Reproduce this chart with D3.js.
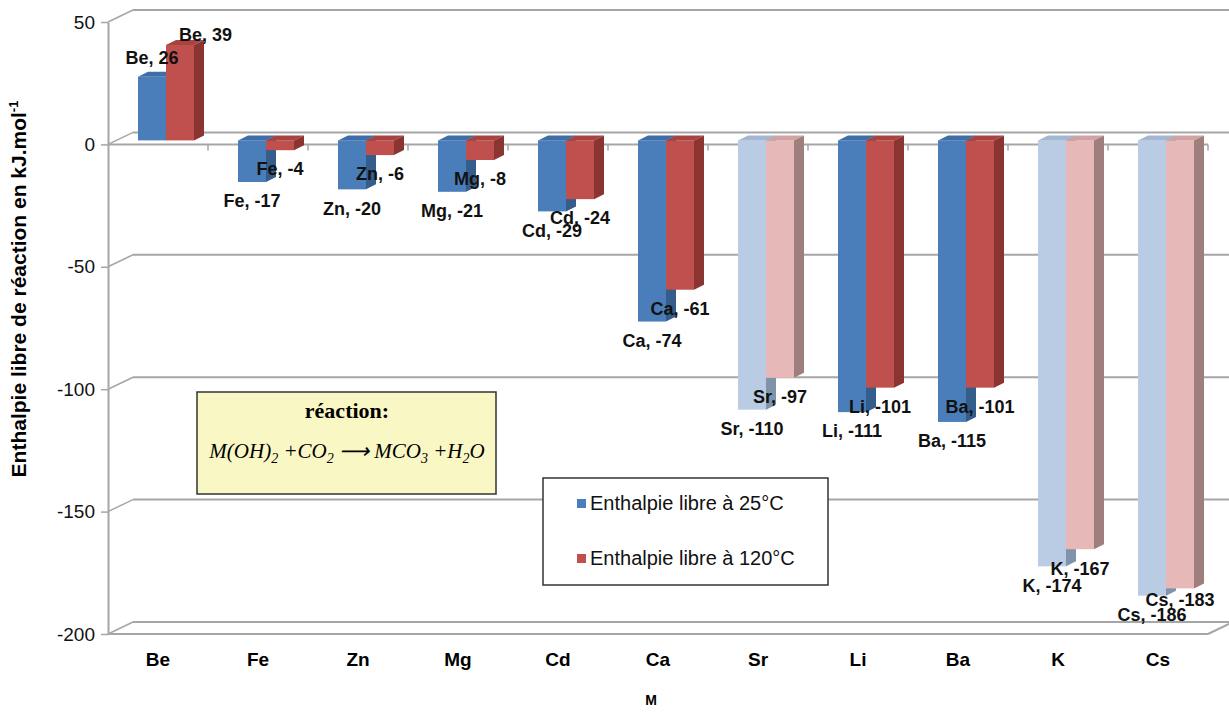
<!DOCTYPE html>
<html>
<head>
<meta charset="utf-8">
<script src="https://cdn.jsdelivr.net/npm/d3@7"></script>
<style>
  body { margin: 0; background: #fff; }
  svg { display: block; font-family: "Liberation Sans", Arial, sans-serif; }
</style>
</head>
<body>
<svg id="chart" width="1229" height="716"></svg>
<script>
// data
var categories = ["Be", "Fe", "Zn", "Mg", "Cd", "Ca", "Sr", "Li", "Ba", "K", "Cs"];
var g25 = [26, -17, -20, -21, -29, -74, -110, -111, -115, -174, -186];
var g120 = [39, -4, -6, -8, -24, -61, -97, -101, -101, -167, -183];
var yTicks = [50, 0, -50, -100, -150, -200];
var seriesNames = ["Enthalpie libre à 25°C", "Enthalpie libre à 120°C"];
var paleCats = ["Sr", "K", "Cs"];

var svg = d3.select("#chart"),
    W = +svg.attr("width"),
    H = +svg.attr("height");

var y = d3.scaleLinear().domain([-200, 50]).range([634, 22]);
var x = d3.scaleBand().domain(categories).range([108, 1208]);
var xs = d3.scaleBand().domain([0, 1]).range([0, 56]);

// 3d offsets: walls, bar position, bar depth
var DX = 25, DY = -12;
var BX = 8, BY = -4;
var dx = 10, dy = -5;
var gridColor = "#a6a6a6";

var colors = [
  { front: "#4a7ebb", side: "#345d8c", top: "#3e6ea7" },
  { front: "#c0504d", side: "#8a3532", top: "#a74441" }
];
var paleColors = [
  { front: "#b9cce4", side: "#7f93aa", top: "#a3b7d0" },
  { front: "#e6b8b7", side: "#a07e7e", top: "#cfa3a2" }
];

// back wall gridlines + side diagonals
var grid = svg.append("g");
yTicks.forEach(function (t) {
  grid.append("line")
    .attr("x1", 108 + DX).attr("x2", W)
    .attr("y1", y(t) + DY).attr("y2", y(t) + DY)
    .attr("stroke", gridColor).attr("stroke-width", 2);
  grid.append("line")
    .attr("x1", 108).attr("x2", 108 + DX)
    .attr("y1", y(t)).attr("y2", y(t) + DY)
    .attr("stroke", gridColor).attr("stroke-width", 1.5);
});

// floor front edge
grid.append("line")
  .attr("x1", 108).attr("x2", 1208)
  .attr("y1", y(-200)).attr("y2", y(-200))
  .attr("stroke", gridColor).attr("stroke-width", 2);
grid.append("line")
  .attr("x1", 1208).attr("x2", 1208 + DX)
  .attr("y1", y(-200)).attr("y2", y(-200) + DY)
  .attr("stroke", gridColor).attr("stroke-width", 2);

// zero axis line with category ticks
grid.append("line")
  .attr("x1", 108).attr("x2", 1208)
  .attr("y1", y(0)).attr("y2", y(0))
  .attr("stroke", gridColor).attr("stroke-width", 2);
categories.forEach(function (c) {
  var xx = x(c) + x.bandwidth();
  grid.append("line")
    .attr("x1", xx).attr("x2", xx)
    .attr("y1", y(0)).attr("y2", y(0) + 6)
    .attr("stroke", gridColor).attr("stroke-width", 1.5);
});

// y axis
var yAxis = svg.append("g")
  .attr("transform", "translate(108,0)")
  .call(d3.axisLeft(y).tickValues(yTicks).tickSize(7).tickSizeOuter(0).tickPadding(6)
    .tickFormat(function (d) { return String(d); }));
yAxis.select(".domain").attr("stroke", gridColor).attr("stroke-width", 2);
yAxis.selectAll(".tick line").attr("stroke", gridColor).attr("stroke-width", 1.5);
yAxis.selectAll(".tick text")
  .style("font-size", "19px")
  .attr("fill", "#111");

// category axis labels
var xAxis = svg.append("g")
  .attr("transform", "translate(0," + y(-200) + ")")
  .call(d3.axisBottom(x).tickSize(0).tickPadding(19));
xAxis.select(".domain").remove();
xAxis.selectAll(".tick text")
  .style("font-size", "19px")
  .style("font-weight", "bold")
  .attr("fill", "#000");

// bars
var rows = categories.map(function (c, i) {
  return { cat: c, vals: [g25[i], g120[i]] };
});

var barsG = svg.append("g");
rows.forEach(function (r) {
  var pale = paleCats.indexOf(r.cat) >= 0;
  r.vals.forEach(function (v, s) {
    var col = pale ? paleColors[s] : colors[s];
    var x0 = x(r.cat) + x.bandwidth() / 2 + BX - 28 + xs(s);
    var w = xs.bandwidth();
    var y0 = y(0) + BY, yv = y(v) + BY;
    var yTop = Math.min(y0, yv), yBot = Math.max(y0, yv);
    var g = barsG.append("g");
    g.append("rect")
      .attr("x", x0).attr("y", yTop)
      .attr("width", w).attr("height", yBot - yTop)
      .attr("fill", col.front);
    g.append("polygon")
      .attr("points", [[x0, yTop], [x0 + dx, yTop + dy], [x0 + w + dx, yTop + dy], [x0 + w, yTop]].join(" "))
      .attr("fill", col.top);
    g.append("polygon")
      .attr("points", [[x0 + w, yTop], [x0 + w + dx, yTop + dy], [x0 + w + dx, yBot + dy], [x0 + w, yBot]].join(" "))
      .attr("fill", col.side);
  });
});

// reaction box
var rb = svg.append("g").attr("transform", "translate(197,392)");
rb.append("rect")
  .attr("width", 299).attr("height", 102)
  .attr("fill", "#f9f7c4").attr("stroke", "#333").attr("stroke-width", 1.5);
rb.append("text")
  .attr("x", 150).attr("y", 26)
  .attr("text-anchor", "middle")
  .style("font-family", "'Liberation Serif', 'Times New Roman', serif")
  .style("font-size", "22px")
  .style("font-weight", "bold")
  .text("réaction:");
var eq = rb.append("text")
  .attr("x", 150).attr("y", 66)
  .attr("text-anchor", "middle")
  .style("font-family", "'Liberation Serif', 'Times New Roman', serif")
  .style("font-size", "21px")
  .style("font-style", "italic");
[["M(OH)", 0], ["2", 1], [" +CO", 0], ["2", 1], [" ⟶ MCO", 0], ["3", 1], [" +H", 0], ["2", 1], ["O", 0]]
  .forEach(function (p, i, arr) {
    var prevSub = i > 0 && arr[i - 1][1];
    var dyv = p[1] && !prevSub ? 5 : (!p[1] && prevSub ? -5 : 0);
    eq.append("tspan")
      .attr("dy", dyv)
      .style("font-size", p[1] ? "14px" : null)
      .text(p[0]);
  });

// legend
var lg = svg.append("g").attr("transform", "translate(543,478)");
lg.append("rect")
  .attr("width", 285).attr("height", 107)
  .attr("fill", "#fff").attr("stroke", "#333").attr("stroke-width", 1.5);
seriesNames.forEach(function (n, i) {
  var yy = 25 + i * 55;
  lg.append("rect")
    .attr("x", 34).attr("y", yy - 4)
    .attr("width", 9).attr("height", 9)
    .attr("fill", colors[i].front);
  lg.append("text")
    .attr("x", 47).attr("y", yy)
    .attr("dy", "0.35em")
    .style("font-size", "20px")
    .attr("fill", "#111")
    .text(n);
});

// data labels
var labG = svg.append("g");
rows.forEach(function (r) {
  r.vals.forEach(function (v, s) {
    var cx = x(r.cat) + x.bandwidth() / 2 + BX - 28 + xs(s) + xs.bandwidth() / 2;
    var yv = y(v) + BY;
    var ly = v >= 0 ? Math.max(yv - 19, y(50) + 13) : yv + 19;
    // keep labels inside the plot at the bottom as well
    ly = Math.min(ly, y(-200) - 17 - 17 * s);
    // top-clamped positive label of the 2nd series gets pushed right, like Excel does
    var pushRight = v >= 0 && s === 1 && ly > yv - 19;
    labG.append("text")
      .attr("x", pushRight ? cx - 1 : cx)
      .attr("y", ly)
      .attr("dy", "0.35em")
      .attr("text-anchor", pushRight ? "start" : "middle")
      .style("font-size", "18px")
      .style("font-weight", "bold")
      .attr("fill", "#111")
      .text(r.cat + ", " + v);
  });
});

// axis titles
var yt = svg.append("text")
  .attr("transform", "translate(26,289) rotate(-90)")
  .attr("text-anchor", "middle")
  .style("font-size", "21px")
  .style("font-weight", "bold")
  .attr("fill", "#000");
yt.append("tspan").text("Enthalpie libre de réaction en kJ.mol");
yt.append("tspan").attr("dy", -8).style("font-size", "13px").text("-1");

svg.append("text")
  .attr("x", 651).attr("y", 705)
  .attr("text-anchor", "middle")
  .style("font-size", "14px")
  .style("font-weight", "bold")
  .text("M");
</script>
</body>
</html>
